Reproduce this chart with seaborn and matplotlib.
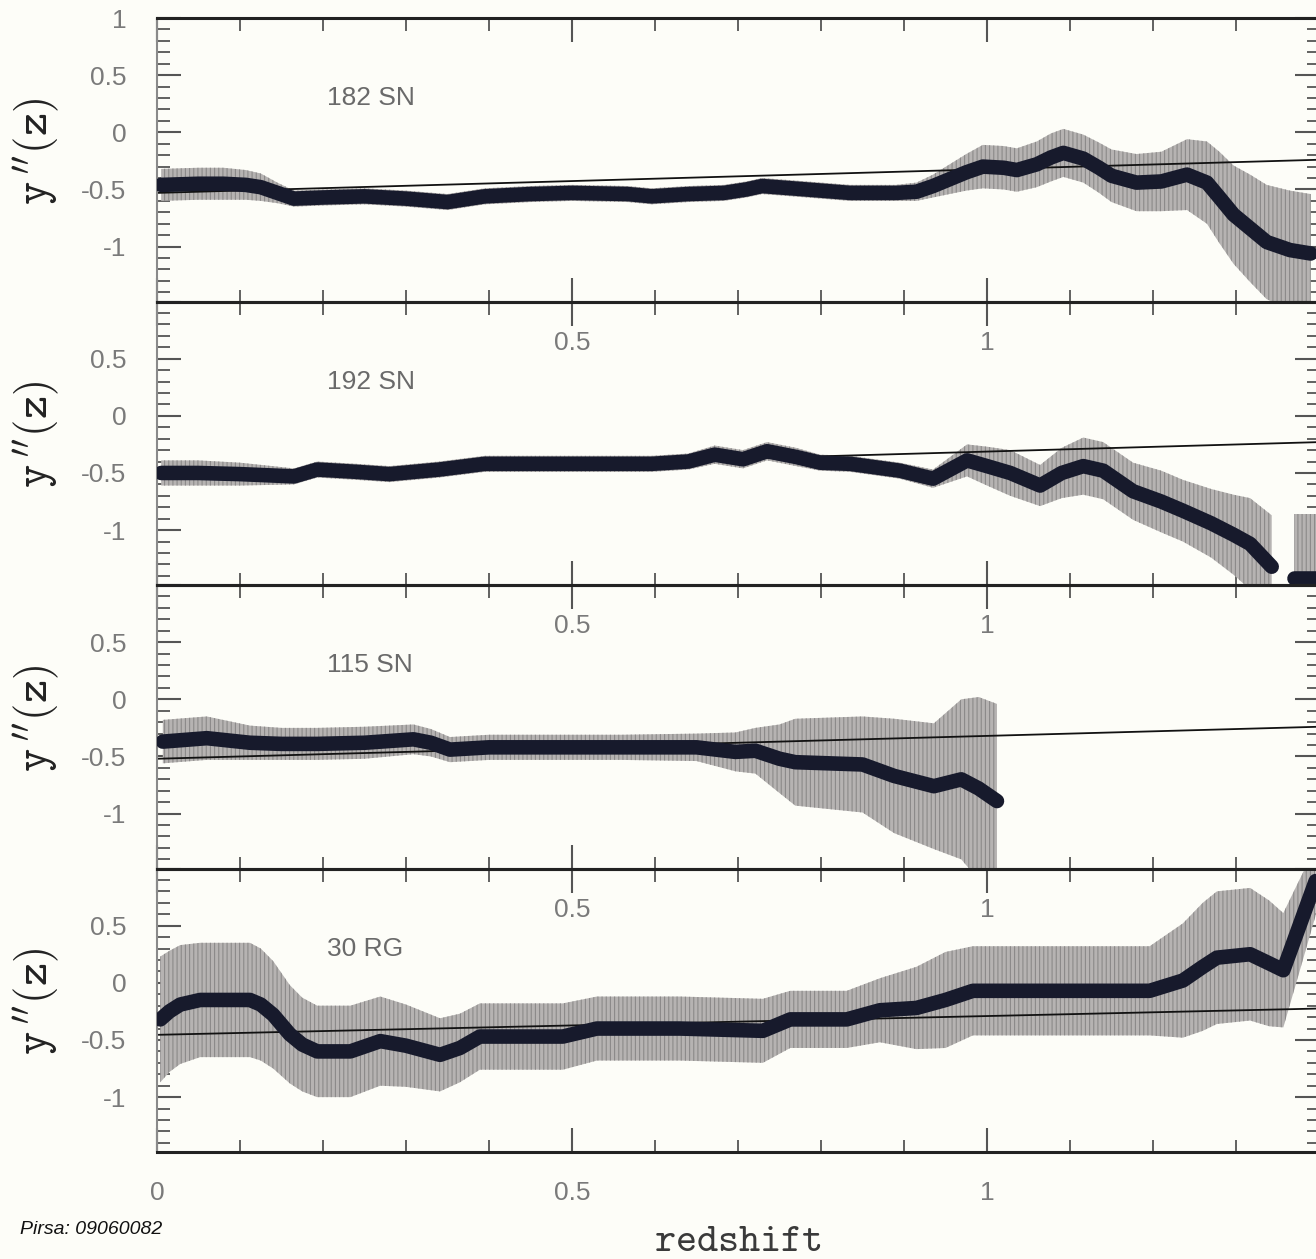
import numpy as np
import pandas as pd
import matplotlib
matplotlib.use("Agg")
import matplotlib.pyplot as plt
from matplotlib.ticker import MultipleLocator
import seaborn as sns

# data (redshift z, y''(z), half-width of error bar)
z_182 = [0.005, 0.05, 0.08, 0.107, 0.125, 0.145, 0.165, 0.2, 0.25, 0.3, 0.35, 0.395, 0.45, 0.5,
         0.567, 0.596, 0.64, 0.683, 0.71, 0.729, 0.765, 0.8, 0.835, 0.89, 0.915, 0.935, 0.955,
         0.975, 0.995, 1.02, 1.036, 1.06, 1.077, 1.092, 1.116, 1.135, 1.15, 1.18, 1.21, 1.241,
         1.265, 1.28, 1.297, 1.317, 1.337, 1.365, 1.39]
y_182 = [-0.46, -0.45, -0.45, -0.46, -0.48, -0.53, -0.58, -0.57, -0.56, -0.58, -0.61, -0.56, -0.54, -0.53,
         -0.54, -0.56, -0.54, -0.53, -0.50, -0.47, -0.49, -0.51, -0.53, -0.53, -0.52, -0.47, -0.41,
         -0.35, -0.30, -0.31, -0.33, -0.28, -0.22, -0.18, -0.23, -0.31, -0.38, -0.44, -0.43, -0.37,
         -0.44, -0.57, -0.72, -0.84, -0.96, -1.03, -1.06]
e_182 = [0.14, 0.14, 0.14, 0.13, 0.12, 0.09, 0.07, 0.07, 0.07, 0.07, 0.07, 0.07, 0.07, 0.07,
         0.07, 0.07, 0.07, 0.07, 0.07, 0.07, 0.07, 0.07, 0.07, 0.07, 0.08, 0.1, 0.13,
         0.16, 0.19, 0.19, 0.19, 0.2, 0.21, 0.21, 0.21, 0.22, 0.23, 0.25, 0.26, 0.31,
         0.36, 0.4, 0.43, 0.47, 0.5, 0.52, 0.52]

z_192 = [0.005, 0.05, 0.1, 0.165, 0.193, 0.24, 0.28, 0.34, 0.395, 0.45, 0.5, 0.596, 0.64,
         0.672, 0.706, 0.735, 0.77, 0.799, 0.835, 0.895, 0.935, 0.976, 1.0, 1.028, 1.064,
         1.09, 1.116, 1.14, 1.176, 1.21, 1.236, 1.27, 1.297, 1.317, 1.343, 1.37, 1.396]
y_192 = [-0.50, -0.50, -0.51, -0.53, -0.47, -0.49, -0.51, -0.47, -0.42, -0.42, -0.42, -0.42, -0.40,
         -0.34, -0.38, -0.31, -0.36, -0.41, -0.42, -0.48, -0.55, -0.39, -0.44, -0.50, -0.61,
         -0.50, -0.44, -0.48, -0.66, -0.75, -0.83, -0.94, -1.04, -1.12, -1.32, -1.42, -1.42]
e_192 = [0.11, 0.11, 0.1, 0.07, 0.07, 0.07, 0.07, 0.07, 0.07, 0.07, 0.07, 0.07, 0.07,
         0.08, 0.08, 0.08, 0.08, 0.07, 0.07, 0.07, 0.08, 0.14, 0.17, 0.2, 0.18,
         0.22, 0.25, 0.25, 0.25, 0.27, 0.27, 0.3, 0.35, 0.4, 0.45, 0.56, 0.56]
seg_192 = [0] * 35 + [1] * 2

z_115 = [0.007, 0.06, 0.112, 0.15, 0.193, 0.25, 0.309, 0.33, 0.353, 0.4, 0.473, 0.56, 0.65,
         0.697, 0.721, 0.75, 0.769, 0.85, 0.888, 0.936, 0.969, 0.99, 1.012]
y_115 = [-0.37, -0.34, -0.38, -0.39, -0.39, -0.38, -0.35, -0.38, -0.44, -0.42, -0.42, -0.42, -0.42,
         -0.46, -0.45, -0.52, -0.55, -0.57, -0.67, -0.76, -0.70, -0.78, -0.89]
e_115 = [0.19, 0.19, 0.15, 0.14, 0.14, 0.14, 0.13, 0.12, 0.11, 0.11, 0.11, 0.11, 0.12,
         0.17, 0.2, 0.3, 0.38, 0.42, 0.5, 0.55, 0.7, 0.8, 0.85]

z_30 = [0.004, 0.015, 0.028, 0.052, 0.08, 0.112, 0.125, 0.14, 0.16, 0.175, 0.193, 0.233, 0.269,
        0.3, 0.341, 0.365, 0.389, 0.489, 0.53, 0.63, 0.73, 0.763, 0.831, 0.871, 0.915, 0.95,
        0.983, 1.076, 1.196, 1.236, 1.26, 1.277, 1.317, 1.34, 1.357, 1.377, 1.396]
y_30 = [-0.32, -0.25, -0.19, -0.15, -0.15, -0.15, -0.19, -0.28, -0.45, -0.54, -0.60, -0.60, -0.51,
        -0.55, -0.63, -0.57, -0.47, -0.47, -0.40, -0.40, -0.42, -0.32, -0.32, -0.24, -0.22, -0.15,
        -0.07, -0.07, -0.07, 0.02, 0.14, 0.22, 0.25, 0.17, 0.11, 0.51, 0.89]
e_30 = [0.55, 0.53, 0.52, 0.5, 0.5, 0.5, 0.49, 0.47, 0.43, 0.41, 0.4, 0.4, 0.39,
        0.36, 0.32, 0.3, 0.29, 0.29, 0.28, 0.28, 0.28, 0.25, 0.25, 0.28, 0.36, 0.42,
        0.39, 0.39, 0.39, 0.5, 0.56, 0.58, 0.58, 0.55, 0.5, 0.4, 0.3]

# thin reference curves
line_z = [0.0, 1.4]
line_182 = [-0.53, -0.24]
line_192 = [-0.52, -0.23]
line_115 = [-0.52, -0.24]
line_30 = [-0.455, -0.225]

labels = ["182 SN", "192 SN", "115 SN", "30 RG"]

sns.set_theme(style="ticks")
plt.rcParams["font.family"] = ["Liberation Sans", "DejaVu Sans"]
plt.rcParams["mathtext.fontset"] = "cm"
plt.rcParams["hatch.linewidth"] = 0.8

W, H = 1316, 1259
fig = plt.figure(figsize=(W / 100, H / 100), dpi=100, facecolor="#fdfdf8")

ax_left = 157 / W
ax_w = 1.4 * 830 / W
top_px, bot_px = 18, 1152
ph = (bot_px - top_px) / 4

panels = [
    (z_182, y_182, e_182, None, line_182),
    (z_192, y_192, e_192, seg_192, line_192),
    (z_115, y_115, e_115, None, line_115),
    (z_30, y_30, e_30, None, line_30),
]

for i, (zz, yy, ee, seg, ln) in enumerate(panels):
    b = 1 - (top_px + (i + 1) * ph) / H
    ax = fig.add_axes([ax_left, b, ax_w, ph / H])
    ax.set_facecolor("none")

    df = pd.DataFrame({"z": zz, "y": yy, "e": ee,
                       "seg": seg if seg is not None else [0] * len(zz)})
    for s, d in df.groupby("seg"):
        ax.fill_between(d["z"], d["y"] - d["e"], d["y"] + d["e"],
                        facecolor="#b6b3b2", edgecolor="#8b8989", hatch="||||",
                        linewidth=0, zorder=1)

    sns.lineplot(x=line_z, y=ln, color="#111111", linewidth=1.3, ax=ax, zorder=2)
    sns.lineplot(data=df, x="z", y="y", units="seg", estimator=None, sort=False,
                 color="#171a2c", linewidth=10.5, solid_capstyle="round",
                 solid_joinstyle="round", ax=ax, zorder=3)

    ax.set_xlim(0, 1.4)
    ax.set_ylim(-1.48, 1.0)
    ax.set_xlabel("")

    ax.set_xticks([0, 0.5, 1])
    ax.set_xticklabels(["0" if i == 3 else "", "0.5", "1"])
    ax.xaxis.set_minor_locator(MultipleLocator(0.1))
    ax.set_yticks([-1, -0.5, 0, 0.5, 1])
    ax.set_yticklabels(["-1", "-0.5", "0", "0.5", "1" if i == 0 else ""])
    ax.yaxis.set_minor_locator(MultipleLocator(0.1))

    ax.tick_params(which="both", direction="in", top=True, right=True,
                   color="#555555", labelcolor="#7a7a7a", labelsize=19)
    ax.tick_params(which="major", length=17, width=1.5)
    ax.tick_params(which="minor", length=9, width=1.3)
    ax.tick_params(axis="x", pad=21)
    ax.tick_params(axis="y", pad=22)

    for side in ["top", "bottom"]:
        ax.spines[side].set_color("#222222")
        ax.spines[side].set_linewidth(2.2)
    for side in ["left", "right"]:
        ax.spines[side].set_color("#8a8a8a")
        ax.spines[side].set_linewidth(1.5)

    ax.text(0.205, 0.30, labels[i], fontsize=19, color="#6a6a6a", va="center", ha="left")

    ax.set_ylabel(r"$\mathtt{y}\,^{\prime\prime}\mathtt{(z)}$", fontsize=32, color="#222222")
    ax.yaxis.set_label_coords(-0.083, 0.53)

fig.text(738 / W, 1 - 1240 / H, r"$\mathtt{redshift}$", fontsize=29, color="#3a3a3a",
         ha="center", va="center")
fig.text(20 / W, 1 - 1230 / H, "Pirsa: 09060082", fontsize=14, style="italic",
         color="#111111", ha="left", va="center")

fig.savefig("out.png", dpi=100, facecolor=fig.get_facecolor())
